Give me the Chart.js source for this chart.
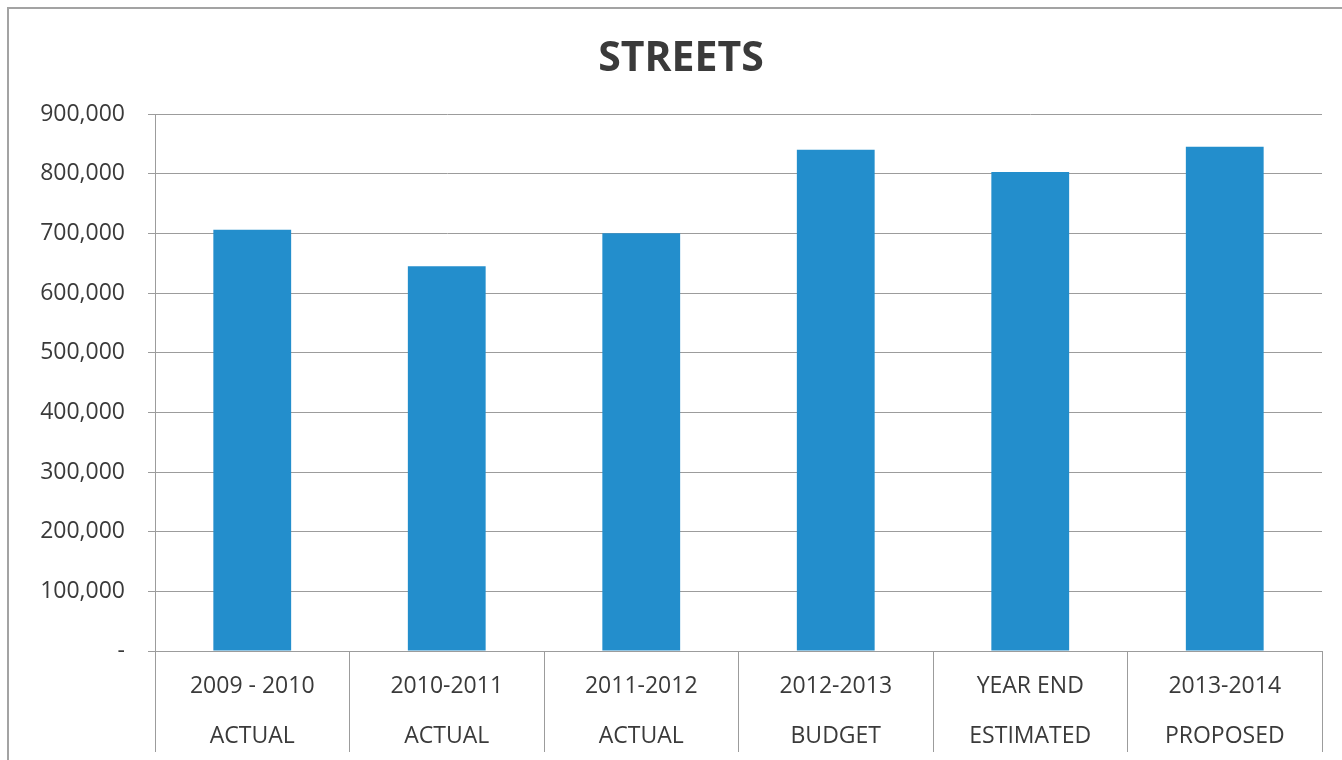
<!DOCTYPE html>
<html>
<head>
<meta charset="utf-8">
<title>Streets</title>
<script src="https://cdn.jsdelivr.net/npm/chart.js@4/dist/chart.umd.min.js"></script>
<style>
  html, body { margin: 0; padding: 0; background: #fff; }
  #wrap { position: relative; width: 1342px; height: 760px; overflow: hidden; }
  #frame { position: absolute; left: 7px; top: 7px; width: 1400px; height: 800px;
           border: 2px solid #a3a3a3; box-sizing: border-box; pointer-events: none; }
  canvas { position: absolute; left: 0; top: 0; }
</style>
</head>
<body>
<div id="wrap">
  <canvas id="chart" width="1342" height="760"></canvas>
  <div id="frame"></div>
</div>
<script>
var years = ['2009 - 2010', '2010-2011', '2011-2012', '2012-2013', 'YEAR END', '2013-2014'];
var kinds = ['ACTUAL', 'ACTUAL', 'ACTUAL', 'BUDGET', 'ESTIMATED', 'PROPOSED'];
var amounts = [706000, 645000, 700000, 840000, 803000, 845000];
var yTicks = [0, 100000, 200000, 300000, 400000, 500000, 600000, 700000, 800000, 900000];

var gridGray = '#9c9c9c';
var textGray = '#3a3a3a';

function makeLabels(top, bottom) {
  return top.map(function(t, i) {
    return [t, bottom[i]];
  });
}

function formatAmount(v) {
  if (v === 0) return '-';
  return v.toLocaleString('en-US');
}

var ctx = document.getElementById('chart');
new Chart(ctx, {
  type: 'bar',
  data: {
    labels: makeLabels(years, kinds),
    datasets: [{
      data: amounts,
      backgroundColor: '#238ecc',
      categoryPercentage: 1,
      barPercentage: 0.4
    }]
  },
  options: {
    responsive: false,
    animation: false,
    // left padding keeps the title centred on the frame
    layout: { padding: { top: 0, left: 40, right: 20, bottom: 0 } },
    plugins: {
      legend: { display: false },
      tooltip: { enabled: false },
      title: {
        display: true,
        text: 'STREETS',
        color: textGray,
        font: { family: 'Open Sans', size: 41, weight: 'bold', lineHeight: 1.2 },
        padding: { top: 35, bottom: 29.8 }
      }
    },
    scales: {
      x: {
        grid: {
          drawOnChartArea: false,
          drawTicks: true,
          tickLength: 101,
          color: gridGray,
          offset: true
        },
        border: { color: gridGray, width: 1 },
        ticks: {
          color: textGray,
          font: { family: 'Open Sans', size: 23, lineHeight: 50 / 23 },
          padding: -91,
          maxRotation: 0,
          autoSkip: false
        },
        afterFit: function(scale) { scale.height = 109; }
      },
      y: {
        min: 0,
        max: 900000,
        afterBuildTicks: function(scale) {
          scale.ticks = yTicks.map(function(v) { return { value: v }; });
        },
        grid: { color: gridGray, tickLength: 7 },
        border: { color: gridGray, width: 1 },
        ticks: {
          color: textGray,
          font: { family: 'Open Sans', size: 23 },
          padding: 23,
          callback: function(v) { return formatAmount(v); }
        },
        afterFit: function(scale) { scale.width = 115; }
      }
    }
  }
});
</script>
</body>
</html>
